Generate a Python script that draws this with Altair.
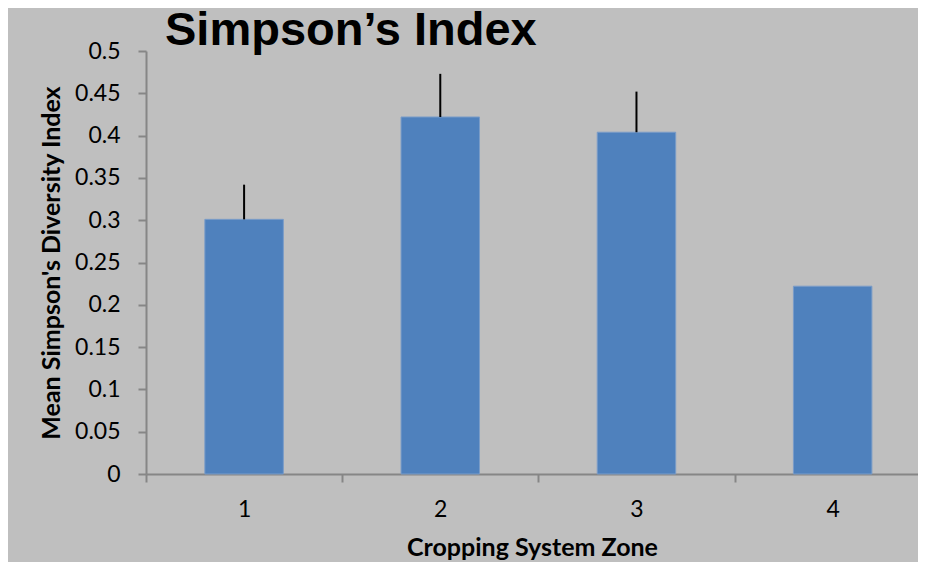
import altair as alt
import pandas as pd

zones = [1, 2, 3, 4]
means = [0.301, 0.422, 0.404, 0.222]
upper = [0.342, 0.473, 0.452, None]

y_ticks = [0, 0.05, 0.1, 0.15, 0.2, 0.25, 0.3, 0.35, 0.4, 0.45, 0.5]
x_ticks = [0.5, 1, 1.5, 2, 2.5, 3, 3.5, 4, 4.5]

df = pd.DataFrame({"zone": zones, "mean": means, "upper": upper})

HALF = 0.2
AXIS_GRAY = "#868686"

x_scale = alt.Scale(domain=[0.5, 4.435], nice=False, zero=False)
y_scale = alt.Scale(domain=[0, 0.5], nice=False)

x_axis = alt.Axis(
    title="Cropping System Zone",
    values=x_ticks,
    labelExpr="datum.value % 1 === 0 ? format(datum.value, 'd') : ''",
    tickOpacity={"condition": {"test": "datum.value % 1 === 0", "value": 0}, "value": 1},
    grid=False,
    domainColor=AXIS_GRAY,
    domainWidth=2,
    tickColor=AXIS_GRAY,
    tickWidth=2,
    tickSize=8,
    labelFont="Lato",
    labelFontSize=23,
    labelColor="black",
    labelPadding=16,
    titleFont="Lato",
    titleFontSize=25,
    titleFontWeight="bold",
    titleColor="black",
    titlePadding=14,
)

y_axis = alt.Axis(
    title="Mean Simpson's Diversity Index",
    values=y_ticks,
    format="~g",
    grid=False,
    domainColor=AXIS_GRAY,
    domainWidth=2,
    tickColor=AXIS_GRAY,
    tickWidth=2,
    tickSize=8,
    labelFont="Lato",
    labelFontSize=23,
    labelColor="black",
    labelPadding=18,
    titleFont="Lato",
    titleFontSize=25,
    titleFontWeight="bold",
    titleColor="black",
    titlePadding=10,
)

base = alt.Chart(df).transform_calculate(
    x_lo=f"datum.zone - {HALF}", x_hi=f"datum.zone + {HALF}"
)

bars = base.mark_bar(color="#4F81BD", stroke="#7A9CC8", strokeWidth=1).encode(
    x=alt.X("x_lo:Q", scale=x_scale, axis=x_axis),
    x2="x_hi:Q",
    y=alt.Y("mean:Q", scale=y_scale, axis=y_axis),
    y2=alt.datum(0),
)

errs = base.transform_filter("isValid(datum.upper)").mark_rule(
    color="black", strokeWidth=2
).encode(
    x=alt.X("zone:Q", scale=x_scale),
    y=alt.Y("mean:Q", scale=y_scale),
    y2="upper:Q",
)

chart = (
    alt.layer(bars, errs)
    .properties(
        width=772,
        height=423,
        autosize=alt.AutoSizeParams(type="none"),
        padding={"left": 138, "top": 43, "right": 0, "bottom": 92},
        background="#BFBFBF",
        title=alt.TitleParams(
            "Simpson’s Index",
            anchor="start",
            frame="group",
            dx=19,
            offset=-15,
            font="Liberation Sans",
            fontSize=47,
            fontWeight="bold",
            color="black",
        ),
    )
    .configure_view(stroke=None)
)

chart.save("out.html", embed_options={"renderer": "svg", "actions": False})
